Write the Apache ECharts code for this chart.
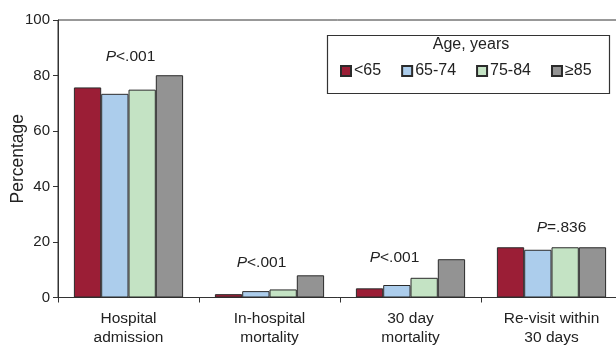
<!DOCTYPE html>
<html>
<head>
<meta charset="utf-8">
<script src="https://cdn.jsdelivr.net/npm/echarts@6/dist/echarts.min.js"></script>
<style>html,body{margin:0;padding:0;background:#fff}#c{width:616px;height:345px}</style>
</head>
<body>
<div id="c"></div>
<script>
const categories = ['Hospital\nadmission', 'In-hospital\nmortality', '30 day\nmortality', 'Re-visit within\n30 days'];
const seriesNames = ['<65', '65-74', '75-84', '\u226585'];
const under65 = [75.7, 1.2, 3.3, 18.1];
const age65to74 = [73.4, 2.3, 4.5, 17.2];
const age75to84 = [74.9, 2.9, 7.1, 18.1];
const age85plus = [80.1, 8.0, 13.8, 18.1];
const pLabels = ['<.001', '<.001', '<.001', '=.836'];
const pLabelY = [86.7, 12.4, 14.2, 25.0];
const yTicks = [0, 20, 40, 60, 80, 100];

const colors = ['#9b1e36', '#accdec', '#c4e3c4', '#939393'];
const pOffsets = [[2, 0], [-8, 0], [-16, 0], [10, 0]];
const FONT = '"Liberation Sans", Arial, sans-serif';

const values = [under65, age65to74, age75to84, age85plus];
const chart = echarts.init(document.getElementById('c'), null, {renderer: 'canvas'});

const barSeries = seriesNames.map((n, i) => ({
  name: n,
  type: 'bar',
  data: values[i],
  barWidth: 27.3,
  barGap: '0%',
  itemStyle: {color: colors[i], borderColor: '#2b2b2b', borderWidth: 1},
  emphasis: {disabled: true}
}));

const pSeries = {
  name: 'p',
  type: 'scatter',
  symbolSize: 0,
  silent: true,
  itemStyle: {color: '#222', opacity: 1},
  data: pLabels.map((t, i) => ({
    value: [i, pLabelY[i]],
    label: {offset: pOffsets[i]}
  })),
  label: {
    show: true,
    position: 'inside',
    color: '#222',
    textBorderWidth: 0,
    opacity: 1,
    formatter: (p) => '{i|P}{n|' + pLabels[p.dataIndex] + '}',
    rich: {
      i: {fontStyle: 'italic', fontSize: 15.5, color: '#222', fontFamily: FONT, textBorderWidth: 0},
      n: {fontSize: 15.5, color: '#222', fontFamily: FONT, textBorderWidth: 0}
    }
  }
};

chart.setOption({
  animation: false,
  textStyle: {fontFamily: FONT},
  grid: {left: 58, top: 20, bottom: 47.5, right: -6, show: true, borderColor: '#333', borderWidth: 1, containLabel: false, outerBoundsMode: 'none'},
  legend: {
    data: seriesNames,
    left: 340, top: 63,
    itemWidth: 10, itemHeight: 10, itemGap: 20,
    icon: 'rect', padding: 0,
    textStyle: {fontSize: 16, color: '#222', fontFamily: FONT, padding: [0, 0, 0, -2]},
    selectedMode: false
  },
  graphic: [
    {type: 'rect', left: 325, top: 33, shape: {width: 282, height: 58}, style: {fill: 'none', stroke: '#333', lineWidth: 1.2}},
    {type: 'text', x: 471, y: 45, style: {text: 'Age, years', font: '16px ' + FONT, fill: '#222', align: 'center', verticalAlign: 'middle'}}
  ],
  xAxis: {
    type: 'category',
    data: categories,
    axisLine: {lineStyle: {color: '#333', width: 1}},
    axisTick: {show: true, alignWithLabel: false, length: 5, lineStyle: {color: '#333'}},
    axisLabel: {fontSize: 15.5, color: '#222', margin: 12, lineHeight: 19, interval: 0, fontFamily: FONT},
    splitLine: {show: false}
  },
  yAxis: {
    type: 'value',
    min: 0, max: 100, interval: 20,
    name: 'Percentage',
    nameLocation: 'middle',
    nameGap: 31,
    nameMoveOverlap: false,
    nameTextStyle: {fontSize: 17.5, color: '#222', fontFamily: FONT},
    axisLine: {show: true, lineStyle: {color: '#333', width: 1}},
    axisTick: {show: true, length: 5, lineStyle: {color: '#333'}},
    axisLabel: {fontSize: 15, color: '#222', margin: 8, fontFamily: FONT,
      formatter: (v) => yTicks.includes(v) ? String(v) : ''},
    splitLine: {show: false}
  },
  series: barSeries.concat([pSeries])
});
</script>
</body>
</html>
